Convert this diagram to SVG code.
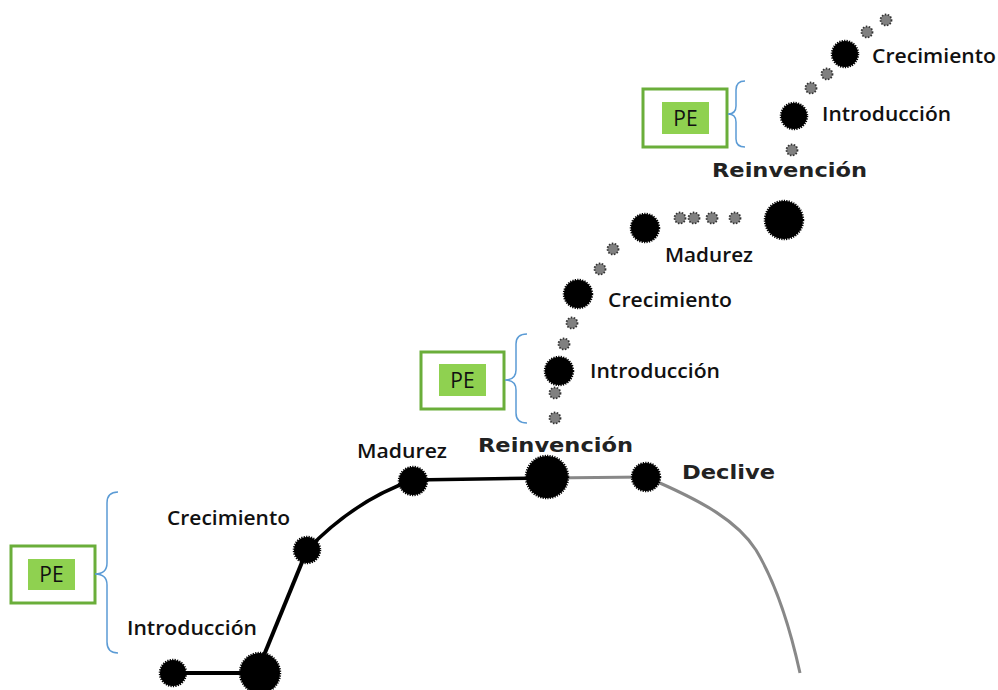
<svg xmlns="http://www.w3.org/2000/svg" width="998" height="690" viewBox="0 0 998 690">
<style>
.bd{fill:#000;stroke:#000;stroke-width:2.5;stroke-dasharray:1.2 1.2}
.gd{fill:#808080;stroke:#333;stroke-width:1.8;stroke-dasharray:1.5 1.5}
.lbl{font-family:"Open Sans","Liberation Sans",sans-serif;font-weight:600;font-size:19px;fill:#111}
.big{font-family:"DejaVu Sans","Liberation Sans",sans-serif;font-weight:bold;font-size:20px;fill:#222}
.box{fill:#fff;stroke:#6aae3a;stroke-width:3}
.inner{fill:#8fd150}
.pe{font-family:"Open Sans","Liberation Sans",sans-serif;font-size:21px;fill:#111;text-anchor:middle}
.brace{fill:none;stroke:#5b9bd5;stroke-width:1.5}
</style>
<rect width="998" height="690" fill="#fff"/>
<g id="connectors">
<path d="M173,673 L260,673" stroke="#000" stroke-width="4" fill="none"/>
<path d="M262,660 L307,550" stroke="#000" stroke-width="4" fill="none"/>
<path d="M307,550 Q355,500 413,480 L547,478" stroke="#000" stroke-width="3.5" fill="none"/>
<path d="M547,478 L646,477" stroke="#888" stroke-width="3" fill="none"/>
<path d="M646,477 C705,502 738,522 756,550 C777,585 791,632 800,673" stroke="#888" stroke-width="3" fill="none"/>
</g>
<g id="phase1">
<circle class="bd" cx="173" cy="673" r="13"/>
<circle class="bd" cx="260" cy="673" r="20"/>
<circle class="bd" cx="307" cy="550" r="13"/>
<circle class="bd" cx="413" cy="481" r="14"/>
<circle class="bd" cx="547" cy="477" r="21"/>
<circle class="bd" cx="646" cy="477" r="14"/>
<text class="lbl" x="127" y="635" textLength="130" lengthAdjust="spacingAndGlyphs">Introducción</text>
<text class="lbl" x="167" y="525" textLength="123" lengthAdjust="spacingAndGlyphs">Crecimiento</text>
<text class="lbl" x="357" y="458" textLength="90" lengthAdjust="spacingAndGlyphs">Madurez</text>
<text class="big" x="478" y="452" textLength="155" lengthAdjust="spacingAndGlyphs">Reinvención</text>
<text class="big" x="682" y="479" textLength="93" lengthAdjust="spacingAndGlyphs">Declive</text>
</g>
<g id="pe1">
<rect class="box" x="11" y="546" width="84" height="57"/>
<rect class="inner" x="28" y="559" width="47" height="31"/>
<text class="pe" x="51.5" y="582">PE</text>
<path class="brace" d="M118,492 Q107,492 107,503 L107,563 Q107,574 95,574 Q107,574 107,585 L107,642 Q107,653 118,653"/>
</g>
<g id="phase2">
<circle class="gd" cx="555" cy="418" r="5.5"/>
<circle class="gd" cx="555" cy="393" r="5.5"/>
<circle class="bd" cx="559" cy="371" r="14"/>
<circle class="gd" cx="564" cy="344" r="5.5"/>
<circle class="gd" cx="572" cy="323" r="5.5"/>
<circle class="bd" cx="578" cy="294" r="14"/>
<circle class="gd" cx="600" cy="269" r="5.5"/>
<circle class="gd" cx="613" cy="249" r="5.5"/>
<circle class="bd" cx="645" cy="228" r="14"/>
<circle class="gd" cx="680" cy="218" r="5.5"/>
<circle class="gd" cx="694" cy="218" r="5.5"/>
<circle class="gd" cx="712" cy="218" r="5.5"/>
<circle class="gd" cx="735" cy="218" r="5.5"/>
<circle class="bd" cx="784" cy="220" r="19"/>
<text class="lbl" x="590" y="378" textLength="130" lengthAdjust="spacingAndGlyphs">Introducción</text>
<text class="lbl" x="608" y="307" textLength="124" lengthAdjust="spacingAndGlyphs">Crecimiento</text>
<text class="lbl" x="665" y="262" textLength="88" lengthAdjust="spacingAndGlyphs">Madurez</text>
</g>
<g id="pe2">
<rect class="box" x="421" y="352" width="83" height="57"/>
<rect class="inner" x="439" y="364" width="47" height="32"/>
<text class="pe" x="462.5" y="388">PE</text>
<path class="brace" d="M527,334 Q516,334 516,344 L516,370 Q516,380 505,380 Q516,380 516,390 L516,413 Q516,423 527,423"/>
</g>
<g id="phase3">
<circle class="gd" cx="792" cy="150" r="5.5"/>
<circle class="bd" cx="794" cy="116" r="13"/>
<circle class="gd" cx="811" cy="88" r="5.5"/>
<circle class="gd" cx="827" cy="74" r="5.5"/>
<circle class="bd" cx="845" cy="54" r="13"/>
<circle class="gd" cx="867" cy="32" r="5.5"/>
<circle class="gd" cx="886" cy="20" r="5.5"/>
<text class="big" x="712" y="177" textLength="155" lengthAdjust="spacingAndGlyphs">Reinvención</text>
<text class="lbl" x="822" y="121" textLength="129" lengthAdjust="spacingAndGlyphs">Introducción</text>
<text class="lbl" x="872" y="63" textLength="124" lengthAdjust="spacingAndGlyphs">Crecimiento</text>
</g>
<g id="pe3">
<rect class="box" x="643" y="89" width="84" height="58"/>
<rect class="inner" x="662" y="102" width="47" height="32"/>
<text class="pe" x="685.5" y="126">PE</text>
<path class="brace" d="M745,81 Q736,81 736,90 L736,106 Q736,114 728,114 Q736,114 736,122 L736,139 Q736,147 745,147"/>
</g>
</svg>
